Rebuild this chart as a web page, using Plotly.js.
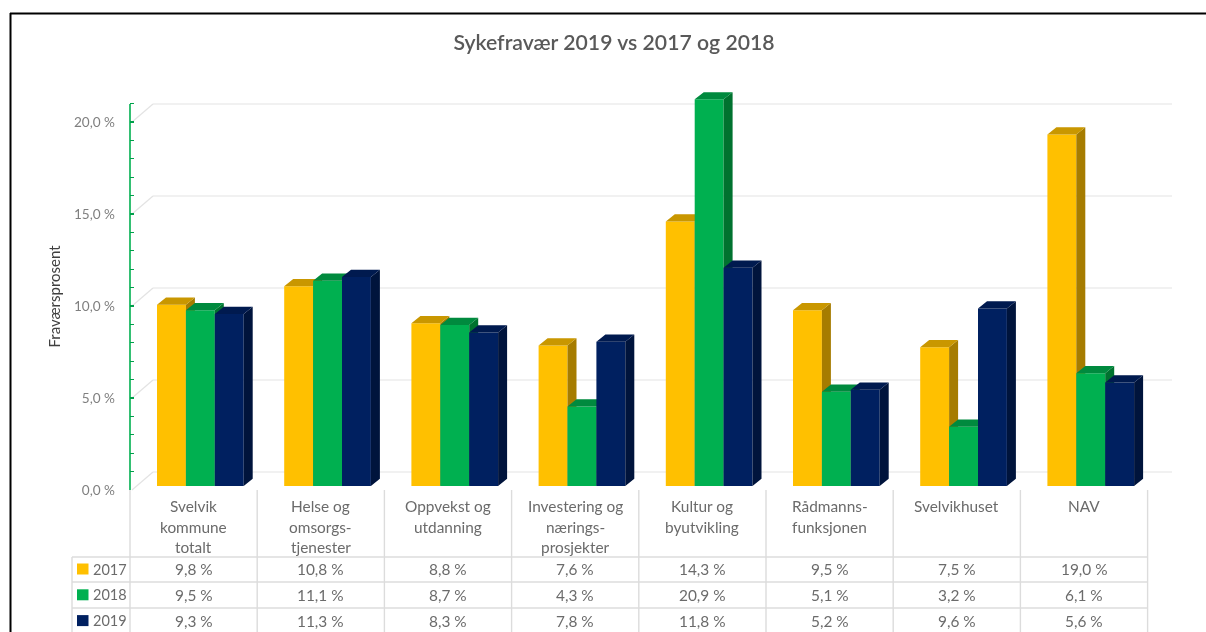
<!DOCTYPE html>
<html><head><meta charset="utf-8">
<script src="https://cdn.plot.ly/plotly-3.0.1.min.js"></script>
<style>html,body{margin:0;padding:0;background:#fff;overflow:hidden}#c{width:1206px;height:632px;filter:blur(0.4px)}</style>
</head><body><div id="c"></div>
<script>
const categories=["Svelvik<br>kommune<br>totalt","Helse og<br>omsorgs-<br>tjenester","Oppvekst og<br>utdanning","Investering og<br>nærings-<br>prosjekter","Kultur og<br>byutvikling","Rådmanns-<br>funksjonen","Svelvikhuset","NAV"];
const seriesNames=["2017","2018","2019"];
const values2017=[9.8,10.8,8.8,7.6,14.3,9.5,7.5,19.0];
const values2018=[9.5,11.1,8.7,4.3,20.9,5.1,3.2,6.1];
const values2019=[9.3,11.3,8.3,7.8,11.8,5.2,9.6,5.6];
const tickValues=[0,5,10,15,20];
const titleText="Sykefravær 2019 vs 2017 og 2018";
const yTitle="Fraværsprosent";

const W=1206,H=632;
const L=130,R=1173,T=85,B=490;      // plot box in px
const colW=127.2, barW=28.9;
const pxU=18.4, barPxU=18.5;
const font="Lato, Carlito, sans-serif";
const faces=[["#FFC000","#C99700","#A67C00"],["#00B050","#008A3E","#00722F"],["#002060","#001A4F","#00143C"]];
const series=[values2017,values2018,values2019];
const fmt=v=>v.toFixed(1).replace(".",",")+" %";
const X=p=>(p-L)/colW-0.5-6.75/colW;   // px -> x data (bars sit right of the column centre)
const idx=categories.map((_,i)=>i);
const paperX=p=>(p-L)/(R-L), paperY=p=>(B-p)/(B-T);
const dx=9/colW, dy=7.2/barPxU, bw=barW/colW;

const traces=[];
series.forEach((vals,s)=>{
  const ya=["y2","y3","y4"][s];
  const off=(s-1.5)*bw;
  traces.push({type:"bar",x:idx,y:vals,yaxis:ya,width:bw,offset:off,marker:{color:faces[s][0],line:{width:0}},hoverinfo:"skip",showlegend:false,name:seriesNames[s]});
  const sx=[],sy=[],tx=[],ty=[];
  vals.forEach((v,i)=>{
    const a=i+off,b=a+bw;
    sx.push(b,b+dx,b+dx,b,b,null); sy.push(0,dy,v+dy,v,0,null);
    tx.push(a,a+dx,b+dx,b,a,null); ty.push(v,v+dy,v+dy,v,v,null);
  });
  traces.push({type:"scatter",mode:"lines",x:sx,y:sy,yaxis:ya,fill:"toself",fillcolor:faces[s][2],line:{width:0,color:faces[s][2]},hoverinfo:"skip",showlegend:false,cliponaxis:false});
  traces.push({type:"scatter",mode:"lines",x:tx,y:ty,yaxis:ya,fill:"toself",fillcolor:faces[s][1],line:{width:0,color:faces[s][1]},hoverinfo:"skip",showlegend:false,cliponaxis:false});
});
// invisible trace to carry the base axis
traces.unshift({type:"scatter",mode:"none",x:[0],y:[0],hoverinfo:"skip",showlegend:false});

const shapes=[],ann=[];
const line=(x0,y0,x1,y1,c,w)=>shapes.push({type:"line",xref:"paper",yref:"paper",x0:paperX(x0),x1:paperX(x1),y0:paperY(y0),y1:paperY(y1),line:{color:c,width:w},layer:"below"});
const gridC="#e3e3e3";
// back-wall gridlines with the diagonal on the side wall
tickValues.forEach(v=>{
  const fy=B-v*pxU, by=fy-18;
  line(132,fy,153,by,gridC,1.2);
  line(153,by,1172,by,gridC,1.2);
});
// y axis line
line(130,B,130,104,"#00B050",1.6);
// table
const tC="#dcdcdc";
[557,582,608].forEach(y=>line(72,y,1147,y,tC,1.6));
for(let i=0;i<=8;i++) line(L+i*colW,490,L+i*colW,632,tC,1.4);
line(72,557,72,632,tC,1.4);
// category labels & values
categories.forEach((c,i)=>{
  const cx=L+(i+0.5)*colW;
  c.split("<br>").forEach((t,k)=>ann.push({xref:"paper",yref:"paper",x:paperX(cx),y:paperY(506+k*20.5),text:t,showarrow:false,xanchor:"center",yanchor:"middle",font:{family:font,size:15.4,color:"#6b6b6b"}}));
  series.forEach((vals,s)=>ann.push({xref:"paper",yref:"paper",x:paperX(cx),y:paperY(569+s*25.8),text:fmt(vals[i]),showarrow:false,xanchor:"center",yanchor:"middle",font:{family:font,size:15.4,color:"#6b6b6b"}}));
});
seriesNames.forEach((n,s)=>{
  const cy=569+s*25.8;
  shapes.push({type:"rect",xref:"paper",yref:"paper",x0:paperX(77),x1:paperX(88.5),y0:paperY(cy-5.5),y1:paperY(cy+5.5),fillcolor:faces[s][0],line:{width:0}});
  ann.push({xref:"paper",yref:"paper",x:paperX(90.5),y:paperY(cy),text:n,showarrow:false,xanchor:"left",yanchor:"middle",font:{family:font,size:14.5,color:"#6b6b6b"}});
});
// y title
ann.push({xref:"paper",yref:"paper",x:paperX(53),y:paperY(296.5),text:yTitle,textangle:-90,showarrow:false,xanchor:"center",yanchor:"middle",font:{family:font,size:15,color:"#404040"}});
// frame
const frame=(x0,y0,x1,y1)=>shapes.push({type:"line",xref:"paper",yref:"paper",x0:paperX(x0),x1:paperX(x1),y0:paperY(y0),y1:paperY(y1),line:{color:"#000",width:2}});
frame(10,13.5,1206,13.5); frame(10.5,13,10.5,632);

const hidden=(lo,hi)=>({range:[lo,hi],overlaying:"y",visible:false,fixedrange:true});
const layout={
  width:W,height:H,paper_bgcolor:"#fff",plot_bgcolor:"rgba(0,0,0,0)",
  margin:{l:L,r:W-R,t:T,b:H-B,pad:0},showlegend:false,barmode:"overlay",
  title:{text:titleText,x:614/W,xanchor:"center",y:1-43/H,yanchor:"middle",font:{family:font,size:21.2,weight:600,color:"#595959"}},
  xaxis:{range:[X(L),X(R)],showgrid:false,zeroline:false,showticklabels:false,ticks:"",showline:false,fixedrange:true},
  yaxis:{range:[0,(B-T)/pxU],tickmode:"array",tickvals:tickValues,ticktext:tickValues.map(fmt),ticks:"inside",ticklen:4,tickwidth:1.2,tickcolor:"#00A04A",
    minor:{tickmode:"array",tickvals:[...Array(22).keys()],ticks:"inside",ticklen:4,tickwidth:1.2,tickcolor:"#00A04A",showgrid:false},
    showgrid:false,zeroline:false,showline:false,ticklabelstandoff:14,tickfont:{family:font,size:13.6,color:"#7f7f7f"},fixedrange:true},
  yaxis2:hidden(-4/barPxU,(486-T)/barPxU),
  yaxis3:hidden(-4/barPxU,(486-T)/barPxU),
  yaxis4:hidden(-4/barPxU,(486-T)/barPxU),
  shapes:shapes,annotations:ann
};
Plotly.newPlot("c",traces,layout,{displayModeBar:false,staticPlot:true});
</script></body></html>
